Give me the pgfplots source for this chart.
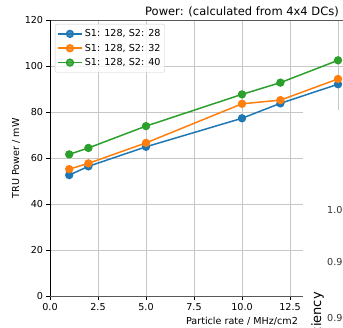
\documentclass[border=0pt]{standalone}
\usepackage{fontspec}
\setmainfont{DejaVu Sans}
\usepackage{pgfplots}
\pgfplotsset{compat=1.18}
\definecolor{cA}{HTML}{1F77B4}
\definecolor{cB}{HTML}{FF7F0E}
\definecolor{cC}{HTML}{2CA02C}
\begin{document}
\fontsize{9.6}{11.5}\selectfont
\begin{tikzpicture}
\begin{axis}[
  at={(0pt,0pt)}, anchor=south west,
  scale only axis, width=384pt, height=276pt,
  xmin=0, xmax=20, ymin=0, ymax=120,
  xtick={0,2.5,...,20}, ytick={0,20,...,120},
  /pgf/number format/assume math mode=true,
  xticklabel style={/pgf/number format/.cd, fixed, fixed zerofill, precision=1},
  yticklabel style={/pgf/number format/.cd, fixed, precision=0},
  grid=major, major grid style={color=black!22, line width=0.8pt},
  tick align=outside, tick pos=left, major tick length=3.5pt,
  every tick/.style={black, line width=0.8pt},
  axis line style={line width=0.8pt},
  separate axis lines,
  every outer x axis line/.append style={black!65},
  every outer y axis line/.append style={black},
  title={Power: (calculated from 4x4 DCs)},
  every axis title/.style={at={(axis description cs:0.5,1.0174)}, anchor=base, font=\fontsize{11.5}{13}\selectfont},
  xlabel={Particle rate / MHz/cm2},
  every axis x label/.style={at={(axis description cs:0.5,-0.1004)}, anchor=base},
  ylabel={TRU Power / mW},
  every axis y label/.style={at={(axis description cs:-0.0807,0.5)}, rotate=90, anchor=base},
  legend style={at={(axis description cs:0.013,0.9866)}, anchor=north west,
    draw=black!20, rounded corners=2pt, fill=white, fill opacity=0.8, text opacity=1,
    inner xsep=2pt, inner ysep=3.2pt, row sep=1.4pt,
    nodes={inner sep=2.2pt, anchor=west}},
  legend cell align=left,
  legend image code/.code={\draw[#1, mark repeat=2, mark phase=2] plot coordinates {(0pt,0pt) (12pt,0pt) (24pt,0pt)};},
  every axis plot/.append style={line width=1.5pt, mark=*, mark size=3.4pt, mark options={solid}},
]
\addplot[color=cA] coordinates {(1,52.7) (2,56.5) (5,65.0) (10,77.4) (12,83.9) (15,92.2)};
\addlegendentry{S1: 128, S2: 28}
\addplot[color=cB] coordinates {(1,55.3) (2,57.8) (5,66.7) (10,83.7) (12,85.3) (15,94.5)};
\addlegendentry{S1: 128, S2: 32}
\addplot[color=cC] coordinates {(1,61.7) (2,64.5) (5,74.0) (10,87.8) (12,92.9) (15,102.6)};
\addlegendentry{S1: 128, S2: 40}
\end{axis}
% overlapping neighbouring panel
\fill[white] (253pt,186.3pt) rectangle (340pt,-40pt);
\node[anchor=west, inner sep=0pt, text=black!80] at (277pt,85.8pt) {1.00};
\node[anchor=west, inner sep=0pt, text=black!80] at (277pt,33.8pt) {0.95};
\node[anchor=west, inner sep=0pt, text=black!80] at (277pt,-22pt) {0.90};
\node[rotate=90, anchor=base east, inner sep=0pt, font=\fontsize{13}{15}\selectfont] at (271pt,4.3pt) {Efficiency};
\pgfresetboundingbox
\path[use as bounding box] (-50pt,-30.7pt) rectangle (293pt,296.3pt);
\end{tikzpicture}
\end{document}
